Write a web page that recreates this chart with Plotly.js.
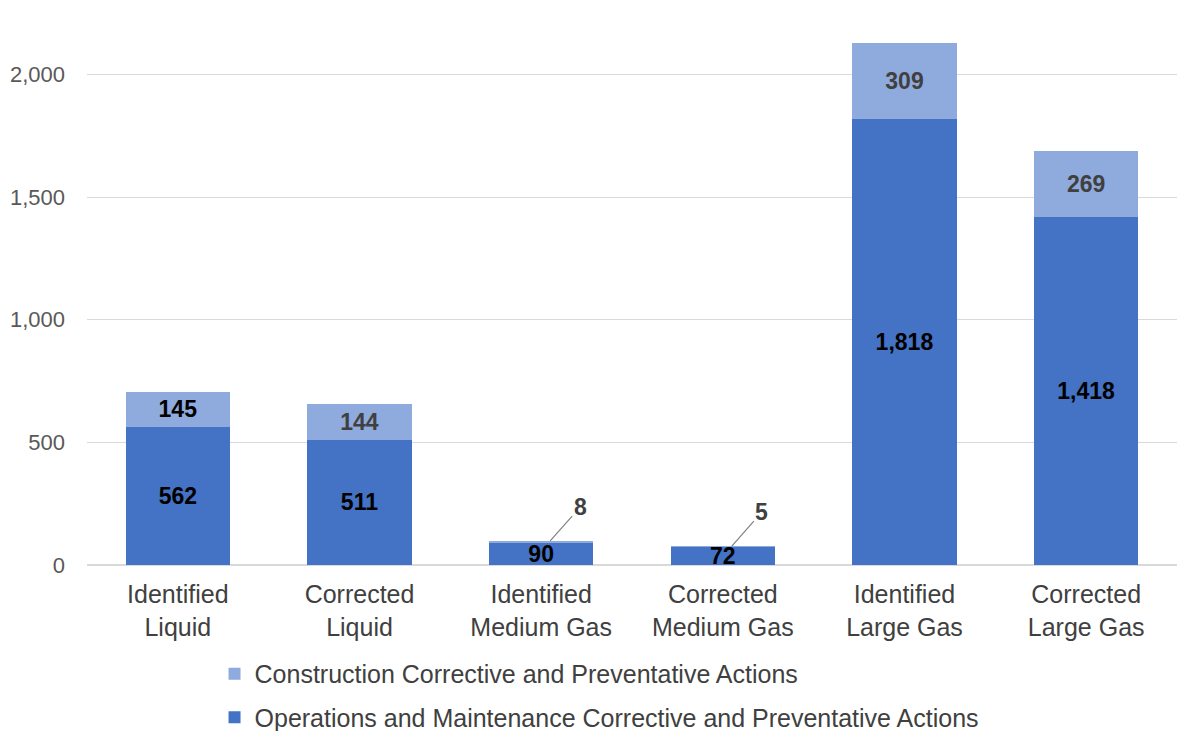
<!DOCTYPE html>
<html>
<head>
<meta charset="utf-8">
<script src="https://cdn.plot.ly/plotly-3.0.1.min.js"></script>
<style>html,body{margin:0;padding:0;background:#fff;}#chart{width:1200px;height:731px;}</style>
</head>
<body>
<div id="chart"></div>
<script>
const categories = ["Identified<br>Liquid", "Corrected<br>Liquid", "Identified<br>Medium Gas", "Corrected<br>Medium Gas", "Identified<br>Large Gas", "Corrected<br>Large Gas"];
const omValues = [562, 511, 90, 72, 1818, 1418];
const constructionValues = [145, 144, 8, 5, 309, 269];
const constructionLabelColors = ["#000000", "#404040", "#404040", "#404040", "#404040", "#404040"];
const yTickValues = [0, 500, 1000, 1500, 2000];
const yTickLabels = ["0", "500", "1,000", "1,500", "2,000"];

const fmt = v => v.toLocaleString("en-US");
const FONT = "Liberation Sans, Arial, sans-serif";
const smallThreshold = 50;

const omTrace = {
  type: "bar",
  name: "Operations and Maintenance Corrective and Preventative Actions",
  x: categories,
  y: omValues,
  marker: {color: "#4472C4"},
  text: omValues.map(fmt),
  textposition: "inside",
  insidetextanchor: "middle",
  textangle: 0,
  constraintext: "none",
  textfont: {family: FONT, size: 23, color: "#000000", weight: "bold"},
  insidetextfont: {family: FONT, size: 23, color: "#000000", weight: "bold"},
  cliponaxis: false,
  legendgroup: "om",
  legendrank: 2,
  hoverinfo: "y+name"
};

const conTrace = {
  type: "bar",
  name: "Construction Corrective and Preventative Actions",
  x: categories,
  y: constructionValues,
  marker: {color: "#8FAADC"},
  text: constructionValues.map(v => v >= smallThreshold ? fmt(v) : ""),
  textposition: "inside",
  insidetextanchor: "middle",
  textangle: 0,
  constraintext: "none",
  textfont: {family: FONT, size: 23, color: constructionLabelColors, weight: "bold"},
  insidetextfont: {family: FONT, size: 23, color: constructionLabelColors, weight: "bold"},
  cliponaxis: false,
  legendgroup: "con",
  legendrank: 1,
  hoverinfo: "y+name"
};

const annotations = [];
constructionValues.forEach((v, i) => {
  if (v < smallThreshold) {
    annotations.push({
      x: categories[i],
      y: omValues[i] + v,
      xref: "x", yref: "y",
      text: fmt(v),
      showarrow: true,
      arrowhead: 0,
      arrowwidth: 1.2,
      arrowcolor: "#808080",
      ax: 30, ay: -34,
      xshift: 9,
      font: {family: FONT, size: 23, color: "#404040", weight: "bold"}
    });
  }
});

const layout = {
  width: 1200, height: 731,
  margin: {l: 87, r: 23, t: 13, b: 166, autoexpand: false},
  paper_bgcolor: "#ffffff",
  plot_bgcolor: "#ffffff",
  barmode: "stack",
  bargap: 0.427,
  showlegend: true,
  legend: {
    orientation: "v",
    traceorder: "grouped",
    tracegroupgap: 8,
    x: 0.117, xanchor: "left", xref: "paper",
    y: 0.1095, yanchor: "top", yref: "container",
    font: {family: FONT, size: 25, color: "#404040"},
    bgcolor: "rgba(0,0,0,0)"
  },
  xaxis: {
    type: "category",
    tickfont: {family: FONT, size: 25, color: "#404040"},
    showgrid: false,
    showline: false,
    ticks: "",
    zeroline: false,
    ticklabelstandoff: 12,
    automargin: false
  },
  yaxis: {
    range: [0, 2250],
    tickvals: yTickValues,
    ticktext: yTickLabels,
    tickfont: {family: FONT, size: 22, color: "#595959"},
    showgrid: true,
    gridcolor: "#d9d9d9",
    gridwidth: 1,
    zeroline: true,
    zerolinecolor: "#d9d9d9",
    zerolinewidth: 1.5,
    showline: false,
    ticks: "",
    ticklabelstandoff: 21,
    automargin: false
  },
  annotations: annotations
};

Plotly.newPlot("chart", [omTrace, conTrace], layout, {displayModeBar: false, staticPlot: true});
</script>
</body>
</html>
